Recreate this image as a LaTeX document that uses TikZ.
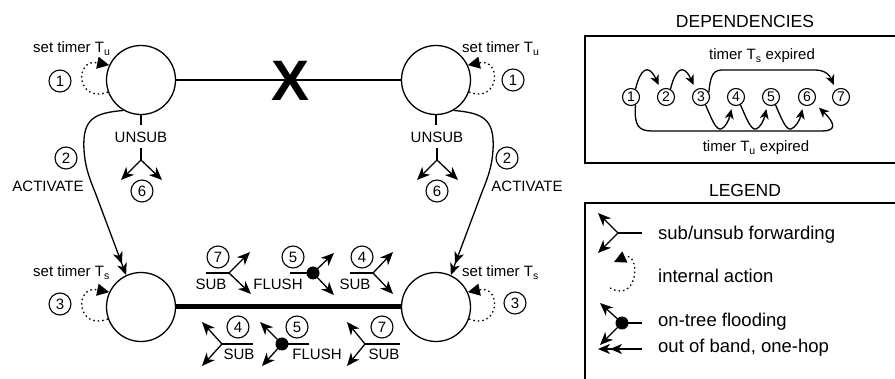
\documentclass[tikz,border=0pt]{standalone}
\usepackage{fontspec}
\setmainfont{Liberation Sans}
\usetikzlibrary{arrows.meta}
\begin{document}
\begin{tikzpicture}[x=1pt,y=-1pt,
  big/.style={circle,draw,line width=1.3pt,minimum size=69pt,inner sep=0pt},
  num/.style={circle,draw,line width=1.1pt,minimum size=22pt,inner sep=0pt,font=\fontsize{15}{15}\selectfont},
  dnum/.style={circle,draw,line width=1.1pt,minimum size=17pt,inner sep=0pt,font=\fontsize{14}{14}\selectfont},
  lbl/.style={inner sep=0pt,font=\fontsize{15}{15}\selectfont},
  ttl/.style={inner sep=0pt,font=\fontsize{17.5}{17.5}\selectfont},
  leg/.style={inner sep=0pt,anchor=base west,font=\fontsize{18.5}{18.5}\selectfont},
  ln/.style={line width=1.3pt},
  fw/.style={line width=1.3pt,-{Stealth[length=13pt,width=11pt,inset=4pt]}},
  dep/.style={line width=1.3pt,-{Stealth[length=10pt,width=9pt,inset=3pt]}},
  ia/.style={line width=1.3pt,dash pattern=on 1.5pt off 3pt,-{Triangle[length=12pt,width=12pt]}},
  fdot/.style={circle,fill,inner sep=0pt,minimum size=13pt},
  oob/.style={line width=1.3pt,-{Stealth[length=12pt,width=10pt,inset=3.5pt]Stealth[length=12pt,width=10pt,inset=3.5pt]}},
]
\useasboundingbox (0,0) rectangle (895,379);

% main nodes
\node[big] (L) at (141,80) {};
\node[big] (R) at (436,80) {};
\node[big] (BL) at (141,307) {};
\node[big] (BR) at (436,307) {};

\draw[ln] (L) -- (R);
\node[inner sep=0pt,font=\fontsize{57}{57}\selectfont\bfseries] (X) at (291,81) {X};
\draw[line width=5pt] (BL) -- (BR);

% timers top
\node[lbl,anchor=base west] (tu1) at (33,53) {set timer T\textsubscript{u}};
\node[lbl,anchor=base west] (tu2) at (462,53) {set timer T\textsubscript{u}};
\node[num] (c1a) at (60,81) {1};
\node[num] (c1b) at (513,80) {1};
\draw[ia] (L.200) .. controls (76,104) and (74,58) .. (L.155);
\draw[ia] (R.-20) .. controls (500,104) and (502,58) .. (R.25);

% timers bottom
\node[lbl,anchor=base west] (ts1) at (33,277) {set timer T\textsubscript{s}};
\node[lbl,anchor=base west] (ts2) at (462,277) {set timer T\textsubscript{s}};
\node[num] (c3a) at (60,304) {3};
\node[num] (c3b) at (515,303) {3};
\draw[ia] (BL.200) .. controls (76,331) and (74,285) .. (BL.155);
\draw[ia] (BR.-20) .. controls (500,331) and (502,285) .. (BR.25);

% activate
\node[num] (c2a) at (66,158) {2};
\node[num] (c2b) at (507,158) {2};
\node[lbl] (act1) at (48,186) {ACTIVATE};
\node[lbl] (act2) at (527,186) {ACTIVATE};
\draw[oob] (L.240) .. controls (95,113) and (82,118) .. (84,150) .. controls (85,165) and (88,175) .. (95,192) -- (BL.115);
\draw[oob] (R.-60) .. controls (482,113) and (495,118) .. (493,150) .. controls (492,165) and (489,175) .. (482,192) -- (BR.65);

% unsub
\node[lbl] (u1) at (141,137) {UNSUB};
\node[lbl] (u2) at (437,137) {UNSUB};
\coordinate (v1) at (141,160);
\coordinate (v2) at (437,160);
\draw[ln] (L.south) -- ++(0,10);
\draw[ln] (R.south) -- ++(0,10);
\draw[ln] (v1) -- ++(0,-12);
\draw[ln] (v2) -- ++(0,-12);
\draw[fw] (v1) -- ++(-20,20);
\draw[fw] (v1) -- ++(21,20);
\draw[fw] (v2) -- ++(-20,20);
\draw[fw] (v2) -- ++(21,20);
\node[num] (c6a) at (142,191) {6};
\node[num] (c6b) at (437,191) {6};

% above thick line
\node[num] (a7) at (218,257) {7};
\node[lbl] (as1) at (211,284) {SUB};
\coordinate (av1) at (229,273);
\draw[ln] (av1) -- ++(-23,0);
\draw[fw] (av1) -- ++(21,-21);
\draw[fw] (av1) -- ++(22,21);

\node[num] (a5) at (293,257) {5};
\node[lbl] (af) at (278,284) {FLUSH};
\node[fdot] (ad) at (313,273) {};
\draw[ln] (ad.center) -- ++(-23,0);
\draw[fw] (ad.center) -- ++(21,-20);
\draw[fw] (ad.center) -- ++(21,22);

\node[num] (a4) at (362,257) {4};
\node[lbl] (as3) at (355,284) {SUB};
\coordinate (av3) at (373,273);
\draw[ln] (av3) -- ++(-23,0);
\draw[fw] (av3) -- ++(20,-21);
\draw[fw] (av3) -- ++(20,21);

% below thick line
\node[num] (b4) at (238,327) {4};
\node[lbl] (bs1) at (239,354) {SUB};
\coordinate (bv1) at (222,344);
\draw[ln] (bv1) -- ++(31,0);
\draw[fw] (bv1) -- ++(-20,-22);
\draw[fw] (bv1) -- ++(-20,22);

\node[num] (b5) at (297,327) {5};
\node[lbl] (bf) at (317,354) {FLUSH};
\node[fdot] (bd) at (282,344) {};
\draw[ln] (bd.center) -- ++(27,0);
\draw[fw] (bd.center) -- ++(-22,-22);
\draw[fw] (bd.center) -- ++(-20,22);

\node[num] (b7) at (382,327) {7};
\node[lbl] (bs3) at (384,354) {SUB};
\coordinate (bv3) at (365,344);
\draw[ln] (bv3) -- ++(35,0);
\draw[fw] (bv3) -- ++(-18,-22);
\draw[fw] (bv3) -- ++(-18,22);

% DEPENDENCIES
\node[ttl] (dt) at (745,21) {DEPENDENCIES};
\draw[line width=1.4pt] (895,36) -- (585,36) -- (585,163) -- (895,163);
\node[dnum] (d1) at (631,97) {1};
\node[dnum] (d2) at (666,97) {2};
\node[dnum] (d3) at (701,97) {3};
\node[dnum] (d4) at (736,97) {4};
\node[dnum] (d5) at (771,97) {5};
\node[dnum] (d6) at (807,97) {6};
\node[dnum] (d7) at (841,97) {7};
\draw[dep,shorten >=5pt] (d1.60) .. controls (640,70) and (648,62) .. (d2.125);
\draw[dep,shorten >=5pt] (d2.60) .. controls (675,70) and (683,62) .. (d3.125);
\draw[dep,shorten >=5pt] (d3.30) .. controls (711,68) and (716,70) .. (730,70) -- (815,70) .. controls (826,70) and (830,76) .. (d7.125);
\draw[dep,shorten >=4pt] (d3.-60) .. controls (712,120) and (716,130) .. (721,129) .. controls (725,128) and (729,120) .. (d4.-115);
\draw[dep,shorten >=4pt] (d4.-60) .. controls (747,120) and (751,130) .. (756,129) .. controls (760,128) and (764,120) .. (d5.-115);
\draw[dep,shorten >=4pt] (d5.-60) .. controls (782,120) and (786,130) .. (791,129) .. controls (795,128) and (800,120) .. (d6.-115);
\draw[dep,shorten >=7pt] (d1.-60) .. controls (634,125) and (638,131) .. (652,131) -- (822,131) .. controls (836,131) and (836,124) .. (d6.-40);
\node[lbl,anchor=base] (te1) at (762,60) {timer T\textsubscript{s} expired};
\node[lbl,anchor=base] (te2) at (756,152) {timer T\textsubscript{u} expired};

% LEGEND
\node[ttl] (lt) at (745,190) {LEGEND};
\draw[line width=1.4pt] (895,203) -- (585,203) -- (585,379);
\coordinate (lv1) at (618,233);
\draw[ln] (lv1) -- ++(24,0);
\draw[fw] (lv1) -- ++(-20,-20);
\draw[fw] (lv1) -- ++(-20,20);
\node[leg] (l1) at (658,240) {sub/unsub forwarding};
\coordinate (ls) at (610,288);
\coordinate (le) at (614,262);
\draw[ia] (ls) .. controls (640,304) and (640,250) .. (le);
\node[leg] (l2) at (658,283) {internal action};
\node[fdot] (ld) at (622,323) {};
\draw[ln] (ld.center) -- ++(20,0);
\draw[fw] (ld.center) -- ++(-22,-20);
\draw[fw] (ld.center) -- ++(-22,22);
\node[leg] (l3) at (658,327) {on-tree flooding};
\coordinate (lo) at (642,349);
\draw[oob] (lo) -- ++(-44,0);
\node[leg] (l4) at (658,353) {out of band, one-hop};
\end{tikzpicture}
\end{document}
